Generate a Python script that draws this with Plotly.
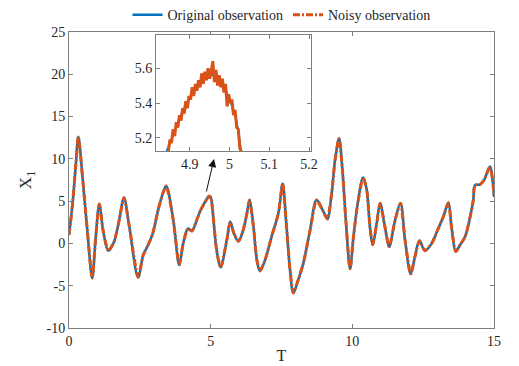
import plotly.graph_objects as go

# ---- data ----
t_key = [0.0, 0.12, 0.24, 0.33, 0.47, 0.65, 0.82, 0.94, 1.07, 1.21, 1.39, 1.59, 1.76, 1.94,
         2.12, 2.44, 2.62, 2.76, 2.94, 3.16, 3.3, 3.43, 3.68, 3.89, 4.03, 4.2, 4.34, 4.51,
         4.62, 4.75, 4.85, 4.88, 4.91, 4.93, 4.955, 4.98, 5.0, 5.015, 5.03, 5.09, 5.21,
         5.35, 5.57, 5.69, 5.82, 5.98, 6.15, 6.29, 6.37, 6.51, 6.63, 6.74, 6.92, 7.15,
         7.39, 7.54, 7.66, 7.8, 7.92, 8.09, 8.27, 8.51, 8.74, 8.98, 9.12, 9.27, 9.39,
         9.53, 9.65, 9.77, 9.92, 10.04, 10.19, 10.38, 10.51, 10.62, 10.72, 10.86, 10.98,
         11.15, 11.3, 11.51, 11.7, 11.86, 12.06, 12.21, 12.37, 12.56, 12.8, 13.0, 13.21,
         13.39, 13.5, 13.65, 13.8, 13.98, 14.13, 14.27, 14.33, 14.5, 14.65, 14.86, 14.95, 15.0]
x1_original = [1.0, 4.5, 9.3, 12.6, 8.1, 1.4, -4.1, 0.6, 4.66, 1.4, -0.86, 0.2, 2.56, 5.4,
               2.17, -4.0, -1.37, -0.4, 1.0, 4.15, 5.8, 6.8, 2.77, -2.55, 0.0, 1.75, 1.47, 2.77,
               3.75, 4.6, 5.17, 5.34, 5.47, 5.53, 5.56, 5.52, 5.42, 5.32, 5.1, 3.15, -0.8,
               -2.83, 0.4, 2.55, 1.2, 0.25, 1.6, 3.75, 5.13, 2.0, -1.96, -3.25, -1.96, 0.8,
               3.56, 7.05, 2.77, -3.1, -5.85, -4.3, -2.35, 1.6, 5.13, 3.75, 2.9, 5.9, 9.85,
               12.4, 8.7, 2.77, -3.0, 0.8, 4.74, 7.8, 6.3, 1.97, -0.15, 2.37, 4.74,
               1.97, -0.39, 2.77, 4.74, 0.4, -3.6, -1.57, 0.32, -0.86, 0.0, 1.5, 3.15,
               4.8, 1.97, -0.95, -0.19, 0.8, 2.7, 5.13, 6.9, 6.95, 7.5, 9.1, 7.5, 5.5]

# noisy observation, densely read inside the zoomed window
t_zoom = [4.846, 4.850, 4.854, 4.858, 4.862, 4.866, 4.870, 4.874, 4.878, 4.882, 4.886, 4.890,
          4.894, 4.898, 4.902, 4.906, 4.910, 4.914, 4.918, 4.922, 4.926, 4.930, 4.934, 4.938,
          4.942, 4.946, 4.950, 4.954, 4.958, 4.962, 4.966, 4.970, 4.974, 4.978, 4.982, 4.986,
          4.990, 4.994, 4.998, 5.002, 5.006, 5.010, 5.014, 5.018, 5.022, 5.026, 5.030, 5.034]
x1_noisy_zoom = [5.12, 5.19, 5.17, 5.25, 5.21, 5.29, 5.26, 5.33, 5.30, 5.37, 5.34, 5.41,
                 5.37, 5.44, 5.42, 5.49, 5.44, 5.51, 5.47, 5.53, 5.49, 5.57, 5.51, 5.58,
                 5.53, 5.60, 5.54, 5.58, 5.64, 5.52, 5.59, 5.50, 5.56, 5.49, 5.54, 5.46,
                 5.51, 5.38, 5.45, 5.40, 5.42, 5.33, 5.36, 5.26, 5.25, 5.14, 5.12, 5.02]

x_ticks = [0, 5, 10, 15]
x_tick_labels = ["0", "5", "10", "15"]
y_ticks = [-10, -5, 0, 5, 10, 15, 20, 25]
y_tick_labels = ["-10", "-5", "0", "5", "10", "15", "20", "25"]
inset_x_ticks = [4.9, 5.0, 5.1, 5.2]
inset_x_labels = ["4.9", "5", "5.1", "5.2"]
inset_y_ticks = [5.2, 5.4, 5.6]
inset_y_labels = ["5.2", "5.4", "5.6"]

# full noisy series = smooth readings outside the window + dense readings inside
pairs = [(t, v) for t, v in zip(t_key, x1_original) if t < t_zoom[0] or t > t_zoom[-1]]
pairs += list(zip(t_zoom, x1_noisy_zoom))
pairs.sort()
t_noisy = [p[0] for p in pairs]
x1_noisy = [p[1] for p in pairs]

# ---- styling ----
BLUE = "#0072BD"
ORANGE = "#D95319"
FONT = "Times New Roman, Liberation Serif, serif"
TXT = "#262626"
AXC = "#7f7f7f"
DASH = "7px,2px,2px,2px"

fig = go.Figure()
fig.add_trace(go.Scatter(x=t_key, y=x1_original, mode="lines", name="Original observation",
                         line=dict(color=BLUE, width=2.5, shape="spline", smoothing=1.0)))
fig.add_trace(go.Scatter(x=t_noisy, y=x1_noisy, mode="lines", name="Noisy observation",
                         line=dict(color=ORANGE, width=3, dash=DASH, shape="spline", smoothing=0.6)))
# inset
fig.add_trace(go.Scatter(x=t_key, y=x1_original, mode="lines", showlegend=False,
                         xaxis="x2", yaxis="y2",
                         line=dict(color=BLUE, width=2, shape="spline", smoothing=1.0)))
fig.add_trace(go.Scatter(x=t_zoom, y=x1_noisy_zoom, mode="lines", showlegend=False,
                         xaxis="x2", yaxis="y2",
                         line=dict(color=ORANGE, width=3)))

axis_common = dict(showline=True, linecolor=AXC, linewidth=1, mirror="ticks",
                   ticks="inside", ticklen=4, tickcolor=AXC, showgrid=False, zeroline=False,
                   automargin=False,
                   tickfont=dict(family=FONT, size=14, color=TXT))

fig.update_layout(
    width=519, height=366,
    margin=dict(l=69, r=25, t=32, b=38, autoexpand=False),
    paper_bgcolor="white", plot_bgcolor="white",
    font=dict(family=FONT, color=TXT),
    showlegend=True,
    legend=dict(orientation="h", x=0.5, xanchor="center", y=1.057, yanchor="middle",
                font=dict(family=FONT, size=14, color=TXT), bgcolor="rgba(0,0,0,0)",
                itemwidth=30, tracegroupgap=0),
    xaxis=dict(range=[0, 15], tickvals=x_ticks, ticktext=x_tick_labels, domain=[0, 1],
               title=dict(text="T", font=dict(family=FONT, size=16, color=TXT), standoff=2),
               **axis_common),
    yaxis=dict(range=[-10, 25], tickvals=y_ticks, ticktext=y_tick_labels, domain=[0, 1],
               title=dict(text="X<sub>1</sub>", font=dict(family=FONT, size=17, color=TXT), standoff=10),
               **axis_common),
    xaxis2=dict(range=[4.815, 5.205], tickvals=inset_x_ticks, ticktext=inset_x_labels,
                domain=[0.2047, 0.5694], anchor="y2", **axis_common),
    yaxis2=dict(range=[5.125, 5.79], tickvals=inset_y_ticks, ticktext=inset_y_labels,
                domain=[0.598, 0.990], anchor="x2", **axis_common),
)

# arrow from the peak to the inset
arrow_tail = (4.836, 5.96)
arrow_head = (5.118, 9.98)
fig.add_annotation(x=arrow_head[0], y=arrow_head[1], ax=arrow_tail[0], ay=arrow_tail[1],
                   xref="x", yref="y", axref="x", ayref="y", text="", showarrow=True,
                   arrowhead=2, arrowsize=1.6, arrowwidth=1, arrowcolor="#111111")

fig.write_html("out.html", config={"displayModeBar": False},
               post_script="document.body.style.margin='0';document.body.style.overflow='hidden';")
